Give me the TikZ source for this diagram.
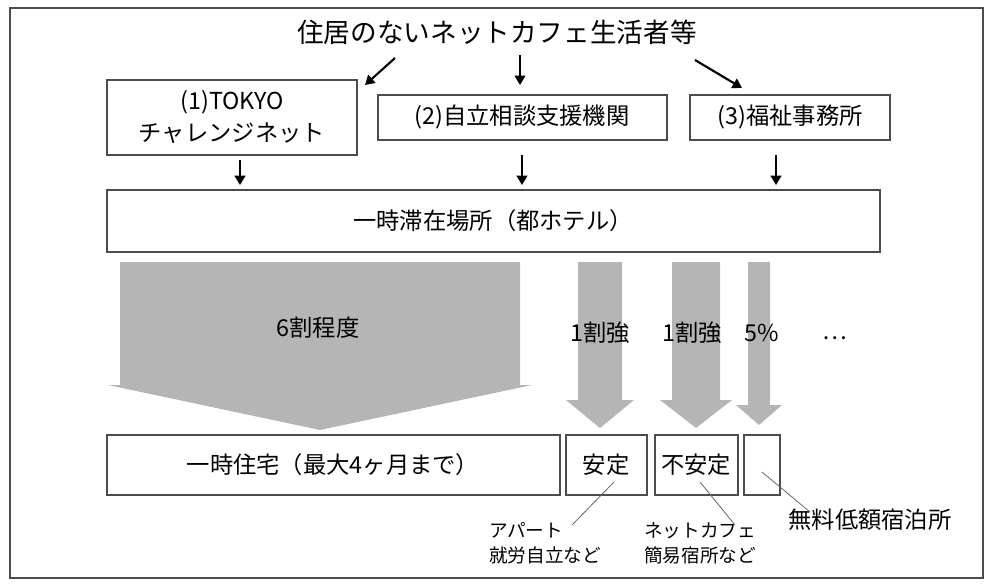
\documentclass[tikz,border=0pt]{standalone}
\usepackage{fontspec}
\setmainfont{Noto Sans CJK JP}
\usetikzlibrary{arrows.meta}
\definecolor{flowgray}{HTML}{B5B5B5}
\tikzset{
  box/.style={draw=black!70, line width=0.8pt},
  route/.style={line width=1.6pt, -{Triangle[length=7pt,width=8pt]}},
  note/.style={draw=black!60, line width=0.6pt}
}
\newcommand{\FlowArrow}[5]{% left, right, top, neck, tip
  \fill[flowgray] (#1,#3) -- (#2,#3) -- (#2,#4) -- ({#2+12},#4) -- ({(#1+#2)/2},#5)
    -- ({#1-12},#4) -- (#1,#4) -- cycle;
}
\begin{document}
\begin{tikzpicture}[x=0.0264cm,y=-0.0264cm]
  \draw[black!70, line width=0.8pt] (10,8) rectangle (983,578);
  \useasboundingbox (0,0) rectangle (990,587);

  % top
  \node[font=\fontsize{20pt}{24pt}\selectfont] (who) at (497,32) {住居のないネットカフェ生活者等};
  \draw[box] (107,80) rectangle (357,155);
  \node[font=\fontsize{17.5pt}{24pt}\selectfont, align=center] (tokyo) at (232,117)
        {(1)TOKYO\\チャレンジネット};
  \draw[box] (378,95) rectangle (667,140);
  \node[font=\fontsize{17.5pt}{22pt}\selectfont] (soudan) at (522,117) {(2)自立相談支援機関};
  \draw[box] (690,95) rectangle (890,140);
  \node[font=\fontsize{17.5pt}{22pt}\selectfont] (fukushi) at (790,117) {(3)福祉事務所};
  \coordinate (w1) at (395,58);
  \coordinate (w2) at (520,55);
  \coordinate (w3) at (695,60);
  \draw[route] (w1) -- (365,85);
  \draw[route] (w2) -- (520,85);
  \draw[route] (w3) -- (742,88);

  % stay
  \draw[box] (107,190) rectangle (880,252);
  \node[font=\fontsize{17.5pt}{22pt}\selectfont] (hotel) at (493,221) {一時滞在場所（都ホテル）};
  \draw[route] (240,160) -- (240,185);
  \draw[route] (522,155) -- (522,185);
  \draw[route] (776,155) -- (776,185);

  % flows
  \FlowArrow{120}{520}{262}{385}{430}
  \FlowArrow{578}{622}{262}{400}{428}
  \FlowArrow{672}{720}{262}{400}{428}
  \FlowArrow{748}{770}{262}{405}{425}
  \begin{scope}[font=\fontsize{17.5pt}{22pt}\selectfont]
    \node (p1) at (318,328) {6割程度};
    \node (p2) at (600,333) {1割強};
    \node (p3) at (692,333) {1割強};
    \node (p4) at (762,333) {5\%};
    \node (p5) at (835,338) {…};
  \end{scope}

  % destinations
  \begin{scope}[font=\fontsize{17.5pt}{22pt}\selectfont]
    \draw[box] (107,435) rectangle (560,495);
    \node (house) at (333,465) {一時住宅（最大4ヶ月まで）};
    \draw[box] (566,435) rectangle (647,495);
    \node (stable) at (606,465) {安定};
    \draw[box] (655,435) rectangle (738,495);
    \node (unstable) at (696,465) {不安定};
    \draw[box] (744,435) rectangle (780,495);
    \coordinate (free) at (762,472);
  \end{scope}
  \begin{scope}[font=\fontsize{14pt}{19pt}\selectfont]
    \node[align=left] (apart) at (545,543) {アパート\\就労自立など};
    \node[align=left] (cafe) at (700,543) {ネットカフェ\\簡易宿所など};
    \node[font=\fontsize{17.5pt}{22pt}\selectfont] (muryo) at (870,520) {無料低額宿泊所};
  \end{scope}
  \draw[note] (614,482) -- (572,525);
  \draw[note] (700,482) -- (735,525);
  \draw[note] (free) -- (810,512);
\end{tikzpicture}
\end{document}
